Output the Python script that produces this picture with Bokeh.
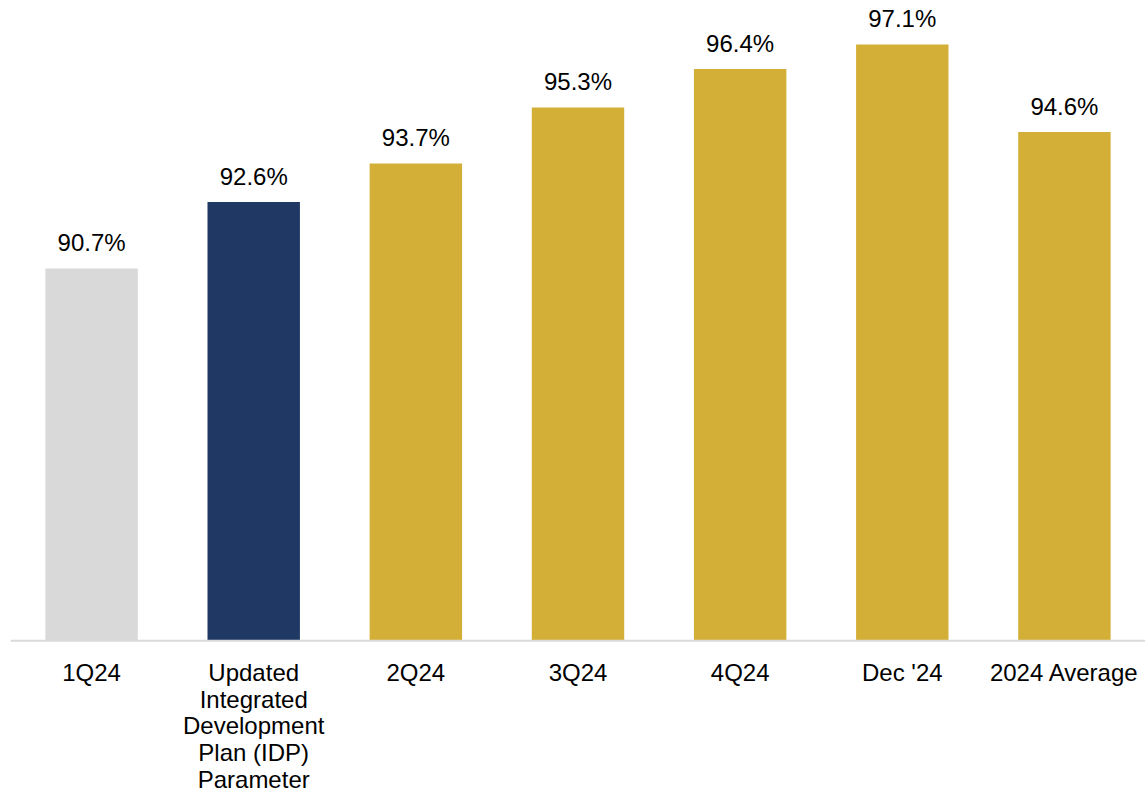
from bokeh.plotting import figure
from bokeh.models import ColumnDataSource, FactorRange, Range1d
from bokeh.core.properties import value
from bokeh.embed import file_html
from bokeh.resources import INLINE

categories = ["1Q24", "Updated\nIntegrated\nDevelopment\nPlan (IDP)\nParameter",
              "2Q24", "3Q24", "4Q24", "Dec '24", "2024 Average"]
values = [90.7, 92.6, 93.7, 95.3, 96.4, 97.1, 94.6]
colors = ["#D9D9D9", "#203864", "#D4AF37", "#D4AF37", "#D4AF37", "#D4AF37", "#D4AF37"]
labels = [f"{v:.1f}%" for v in values]

Y0 = 80.06          # value at the baseline
Y_MIN = 75.61       # room under the baseline for category labels
Y_MAX = 98.36

src = ColumnDataSource(dict(x=categories, top=values, color=colors, label=labels,
                            bottom=[Y0] * len(values)))

p = figure(x_range=FactorRange(*categories, range_padding=0),
           y_range=Range1d(Y_MIN, Y_MAX),
           width=1145, height=796, output_backend="svg", toolbar_location=None,
           min_border_left=10, min_border_right=0, min_border_top=0, min_border_bottom=0)

p.vbar(x="x", top="top", bottom="bottom", width=0.57, fill_color="color",
       line_color=None, source=src)
# baseline
p.segment(x0=[(categories[0], -0.5)], x1=[(categories[-1], 0.5)], y0=[Y0], y1=[Y0],
          line_color="#D9D9D9", line_width=2)
# value labels
p.text(x="x", y="top", text="label", source=src, text_align="center",
       text_baseline="alphabetic", y_offset=-26, text_font=value("Liberation Sans"),
       text_font_size="24px", text_color="#000000")
# category labels
p.text(x="x", y="bottom", text="x", source=src, text_align="center",
       text_baseline="top", y_offset=18, text_line_height=0.99,
       text_font=value("Liberation Sans"), text_font_size="24px", text_color="#000000")

p.axis.visible = False
p.xgrid.visible = False
p.ygrid.visible = False
p.outline_line_color = None

open("out.html", "w").write(file_html(p, INLINE))
